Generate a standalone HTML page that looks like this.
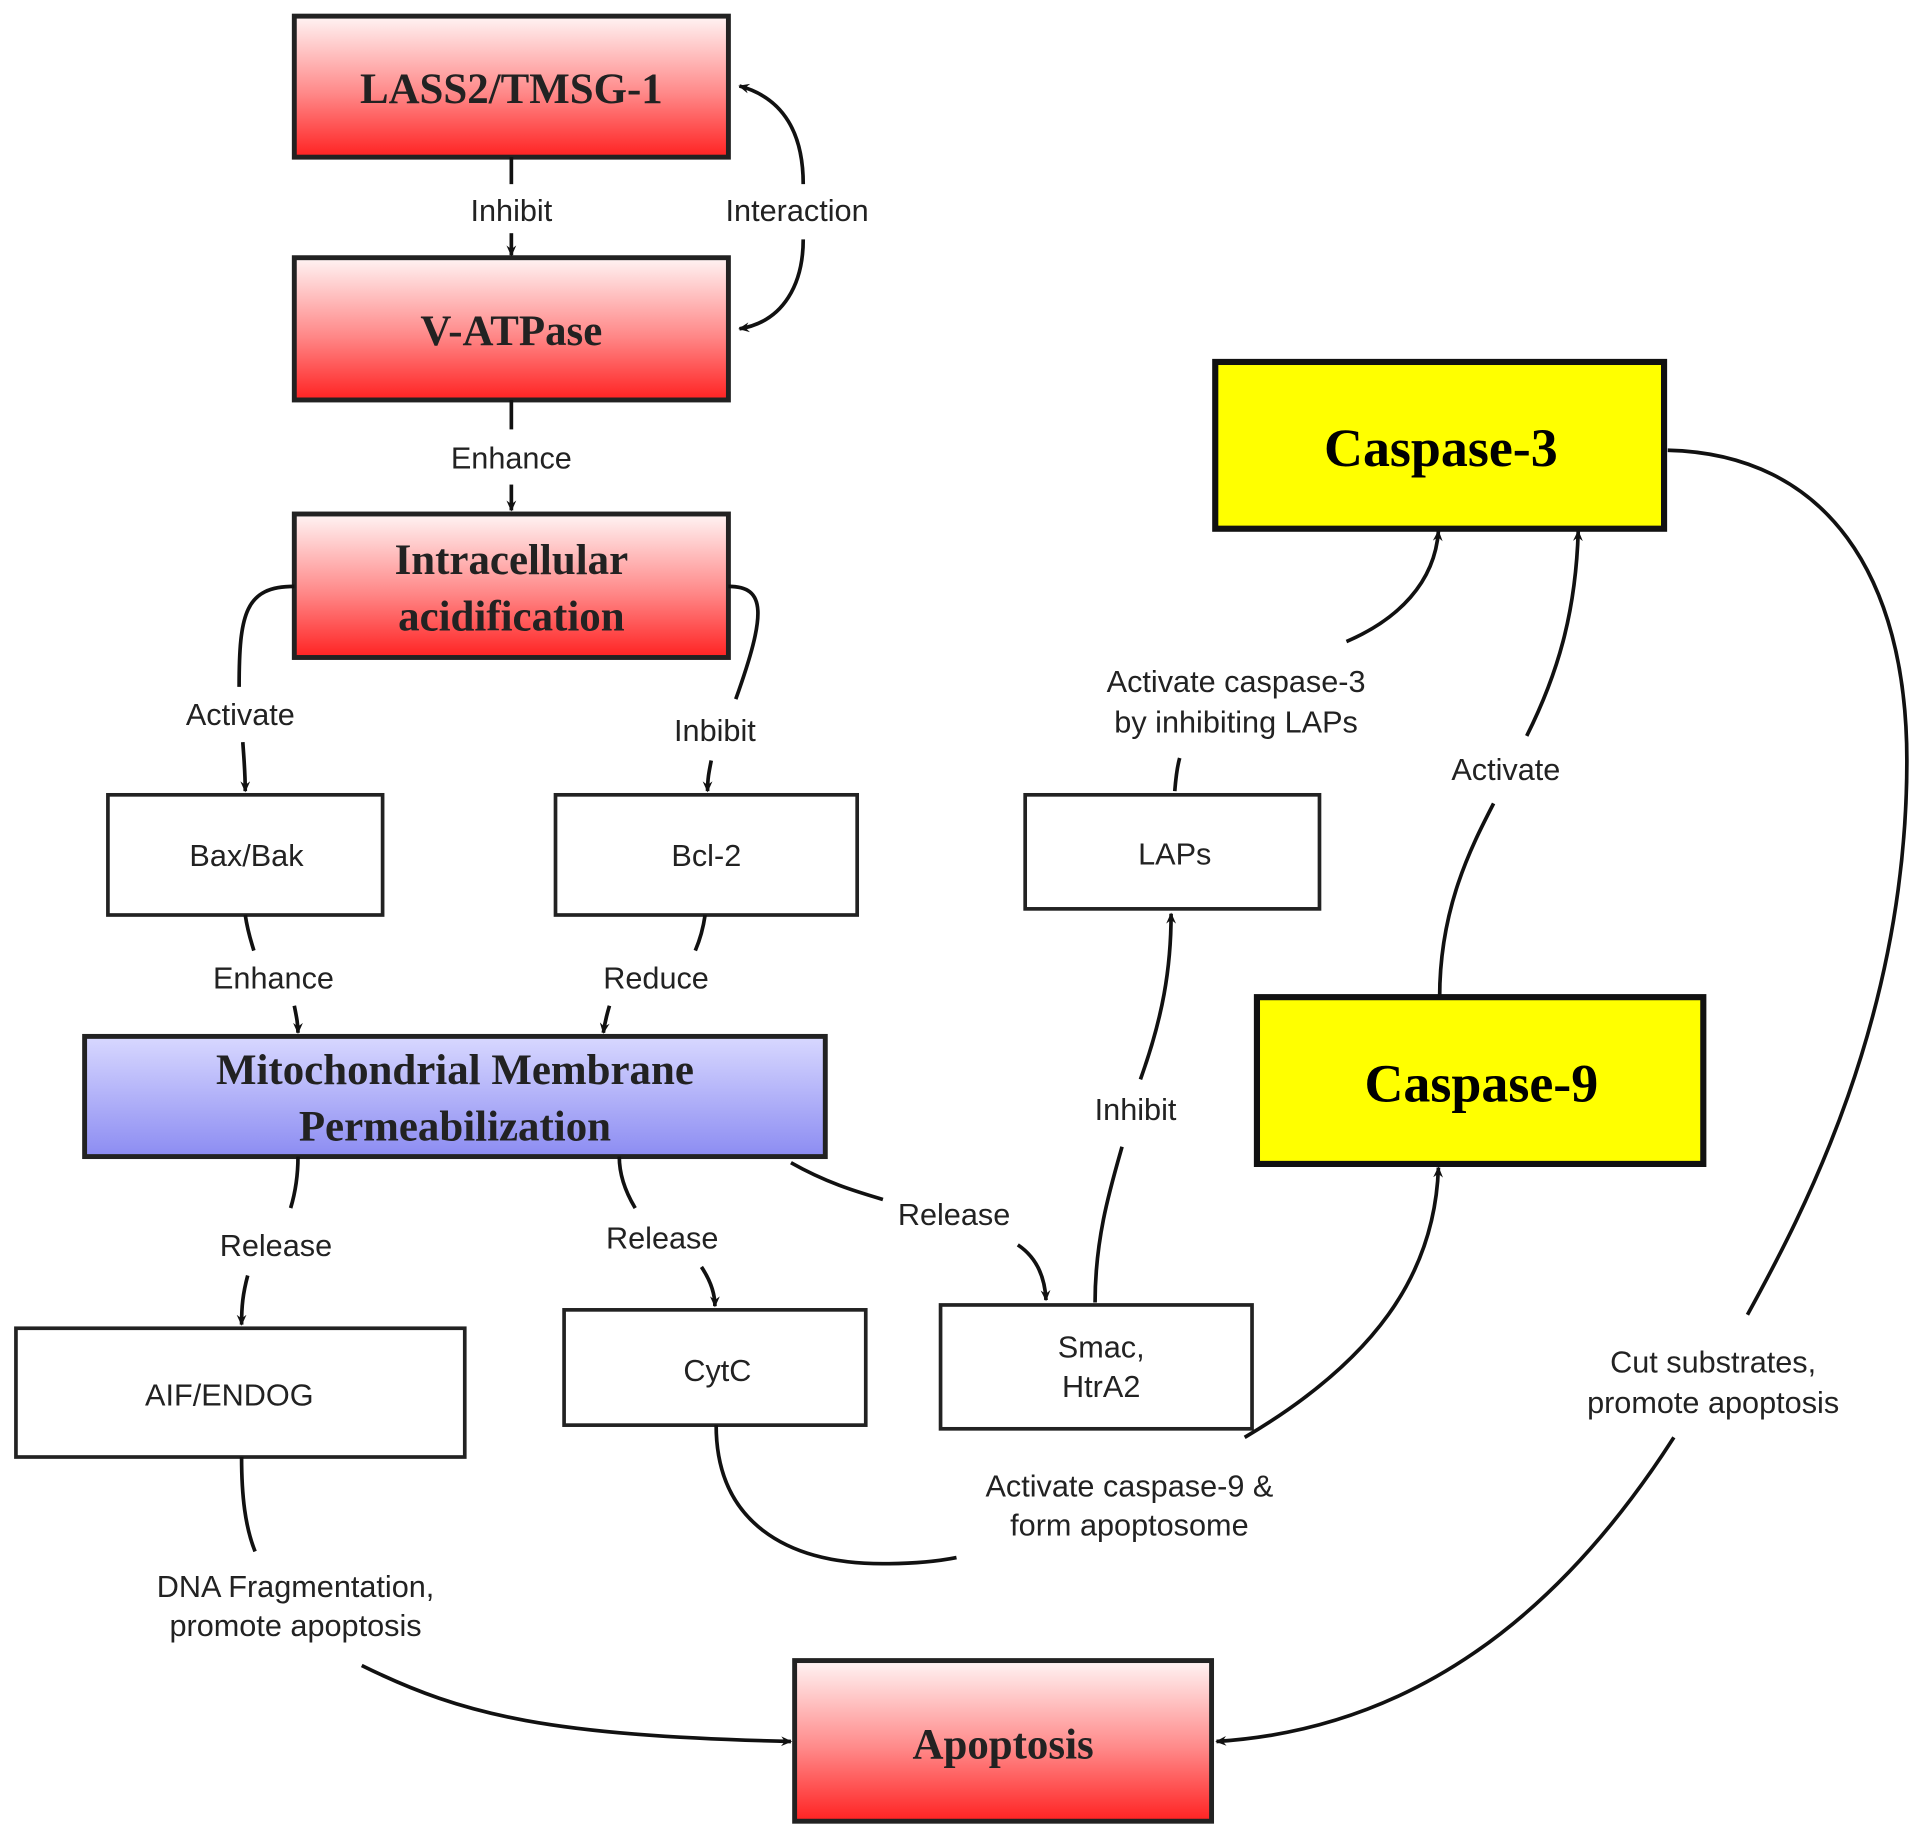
<!DOCTYPE html>
<html><head><meta charset="utf-8"><style>html,body{margin:0;padding:0;background:#fff}svg{display:block}</style></head>
<body>
<svg width="1913" height="1830" viewBox="0 0 1560 1492" xmlns="http://www.w3.org/2000/svg">
<defs>
<linearGradient id="r" x1="0" y1="0" x2="0" y2="1"><stop offset="0" stop-color="#fff4f4"/><stop offset="0.55" stop-color="#f88"/><stop offset="1" stop-color="#f22"/></linearGradient>
<linearGradient id="b" x1="0" y1="0" x2="0" y2="1"><stop offset="0" stop-color="#d8d8ff"/><stop offset="1" stop-color="#8c8cf2"/></linearGradient>
<marker id="a" markerWidth="10" markerHeight="10" refX="8" refY="5" orient="auto" markerUnits="userSpaceOnUse"><path d="M0,1 L9,5 L0,9 L3,5 Z" fill="#111"/></marker>
</defs>
<g stroke="#222" fill="none">
<rect x="240" y="13" width="354" height="115" fill="url(#r)" stroke-width="4"/>
<rect x="240" y="210" width="354" height="116" fill="url(#r)" stroke-width="4"/>
<rect x="240" y="419" width="354" height="117" fill="url(#r)" stroke-width="4"/>
<rect x="88" y="648" width="224" height="98" fill="#fff" stroke-width="3"/>
<rect x="453" y="648" width="246" height="98" fill="#fff" stroke-width="3"/>
<rect x="836" y="648" width="240" height="93" fill="#fff" stroke-width="3"/>
<rect x="991" y="295" width="366" height="136" fill="#ffff00" stroke="#111" stroke-width="5"/>
<rect x="1025" y="813" width="364" height="136" fill="#ffff00" stroke="#111" stroke-width="5"/>
<rect x="69" y="845" width="604" height="98" fill="url(#b)" stroke-width="4"/>
<rect x="13" y="1083" width="366" height="105" fill="#fff" stroke-width="3"/>
<rect x="460" y="1068" width="246" height="94" fill="#fff" stroke-width="3"/>
<rect x="767" y="1064" width="254" height="101" fill="#fff" stroke-width="3"/>
<rect x="648" y="1354" width="340" height="131" fill="url(#r)" stroke-width="4"/>
</g>
<g stroke="#111" stroke-width="3" fill="none">
<path d="M417,128 V150"/><path d="M417,190 V208" marker-end="url(#a)"/>
<path d="M655,150 C655,110 640,80 603,70" marker-end="url(#a)"/>
<path d="M655,195 C655,230 640,262 603,268" marker-end="url(#a)"/>
<path d="M417,326 V350"/><path d="M417,395 V416" marker-end="url(#a)"/>
<path d="M240,478 C200,478 195,500 195,560"/><path d="M198,605 C199,620 200,630 200,645" marker-end="url(#a)"/>
<path d="M594,478 C625,478 625,500 600,570"/><path d="M580,620 C578,630 577,635 577,645" marker-end="url(#a)"/>
<path d="M200,746 C202,760 205,768 207,775"/><path d="M240,820 C242,830 243,835 243,842" marker-end="url(#a)"/>
<path d="M575,746 C573,760 570,768 567,775"/><path d="M497,820 C494,830 493,835 492,842" marker-end="url(#a)"/>
<path d="M243,943 C243,960 240,975 237,985"/><path d="M202,1040 C198,1055 197,1065 197,1080" marker-end="url(#a)"/>
<path d="M505,943 C505,960 512,975 518,985"/><path d="M572,1033 C580,1045 583,1055 583,1065" marker-end="url(#a)"/>
<path d="M645,948 C675,965 700,972 720,978"/><path d="M830,1015 C845,1025 852,1040 853,1060" marker-end="url(#a)"/>
<path d="M893,1062 C893,1010 905,970 915,935"/><path d="M930,880 C948,830 955,790 955,745" marker-end="url(#a)"/>
<path d="M958,645 C959,632 960,625 962,618"/><path d="M1098,523 C1140,505 1170,475 1173,433" marker-end="url(#a)"/>
<path d="M1174,813 C1174,740 1200,690 1218,655"/><path d="M1245,600 C1270,550 1285,500 1287,433" marker-end="url(#a)"/>
<path d="M1015,1172 C1120,1110 1170,1040 1173,952" marker-end="url(#a)"/>
<path d="M584,1162 C584,1240 640,1275 720,1275 C750,1275 770,1272 780,1270"/>
<path d="M197,1188 C197,1220 200,1245 208,1265"/>
<path d="M295,1358 C380,1400 450,1415 645,1420" marker-end="url(#a)"/>
<path d="M1360,367 C1490,370 1555,470 1555,620 C1555,830 1470,990 1425,1072"/>
<path d="M1365,1172 C1270,1320 1150,1410 992,1420" marker-end="url(#a)"/>
</g>
<g font-family="Liberation Serif, serif" font-weight="bold" fill="#222" text-anchor="middle">
<text x="417" y="84" font-size="35">LASS2/TMSG-1</text>
<text x="417" y="281" font-size="35">V-ATPase</text>
<text x="417" y="468" font-size="35">Intracellular</text>
<text x="417" y="514" font-size="35">acidification</text>
<text x="371" y="884" font-size="35">Mitochondrial Membrane</text>
<text x="371" y="930" font-size="35">Permeabilization</text>
<text x="818" y="1434" font-size="35">Apoptosis</text>
<text x="1175" y="380" font-size="44" fill="#000">Caspase-3</text>
<text x="1208" y="898" font-size="44" fill="#000">Caspase-9</text>
</g>
<g font-family="Liberation Sans, sans-serif" font-size="25" fill="#222" text-anchor="middle">
<text x="201" y="706">Bax/Bak</text>
<text x="576" y="706">Bcl-2</text>
<text x="958" y="705">LAPs</text>
<text x="187" y="1146">AIF/ENDOG</text>
<text x="585" y="1126">CytC</text>
<text x="898" y="1107">Smac,</text>
<text x="898" y="1139">HtrA2</text>
<text x="417" y="180">Inhibit</text>
<text x="650" y="180">Interaction</text>
<text x="417" y="382">Enhance</text>
<text x="196" y="591">Activate</text>
<text x="583" y="604">Inbibit</text>
<text x="223" y="806">Enhance</text>
<text x="535" y="806">Reduce</text>
<text x="225" y="1024">Release</text>
<text x="540" y="1018">Release</text>
<text x="778" y="999">Release</text>
<text x="926" y="913">Inhibit</text>
<text x="1008" y="564">Activate caspase-3</text>
<text x="1008" y="597">by inhibiting LAPs</text>
<text x="1228" y="636">Activate</text>
<text x="1397" y="1119">Cut substrates,</text>
<text x="1397" y="1152">promote apoptosis</text>
<text x="921" y="1220">Activate caspase-9 &amp;</text>
<text x="921" y="1252">form apoptosome</text>
<text x="241" y="1302">DNA Fragmentation,</text>
<text x="241" y="1334">promote apoptosis</text>
</g>
</svg>
</body></html>
